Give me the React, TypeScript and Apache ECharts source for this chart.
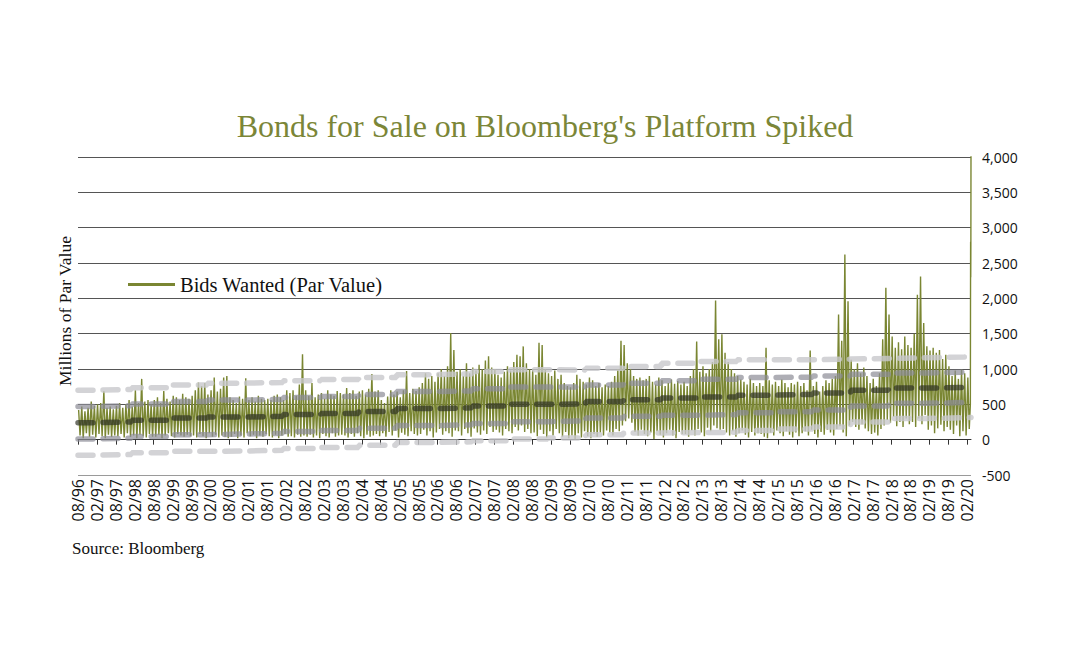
import React, { useEffect, useRef } from "react";
import * as echarts from "echarts";

// Month 0 = Aug 1996. Monthly peak (high) and trough (low) readings of the daily series, millions of par value.
const peakByMonth: number[] = [
  420, 470, 400, 450, 540, 480, 500, 520, 690, 450, 470, 430,
  480, 520, 450, 500, 560, 470, 700, 520, 860, 540, 560, 500,
  560, 600, 520, 690, 580, 540, 620, 600, 560, 650, 600, 580,
  620, 700, 810, 760, 800, 640, 700, 880, 680, 720, 880, 900,
  600, 560, 520, 610, 580, 870, 560, 600, 540, 620, 580, 560,
  580, 560, 620, 640, 600, 560, 700, 660, 700, 620, 780, 1210,
  700, 620, 800, 600, 640, 660, 580, 700, 640, 620, 690, 660,
  640, 730, 660, 700, 620, 680, 700, 640, 720, 930, 680, 700,
  560, 520, 610, 700, 640, 680, 600, 700, 970, 660, 720, 690,
  740, 800, 940, 860, 900, 820, 940, 1000, 900, 1040, 1510, 1270,
  960, 1000, 900, 1080, 940, 1020, 980, 1060, 1000, 1120, 1180, 1020,
  1000, 920, 880, 960, 1040, 980, 1100, 1200, 1180, 1320, 1080, 1000,
  1000, 920, 1370, 1340, 1000, 940, 900, 980, 860, 920, 800, 760,
  740, 800, 920, 860, 820, 780, 880, 840, 760, 800, 740, 780,
  760, 820, 900, 1000, 1400, 1340, 1080, 1000, 900, 860, 880, 840,
  860, 900, 820, 780, 880, 840, 760, 800, 850, 790, 830, 780,
  820, 760, 900, 1000, 1390, 960, 1040, 940, 1000, 1100, 1970, 1420,
  1490, 1230, 1100, 1000, 940, 900, 850, 820, 780, 860, 800, 760,
  800, 760, 1300, 840, 780, 820, 760, 850, 800, 740, 800, 780,
  820, 760, 800, 700, 1260, 760, 820, 680, 760, 840, 800, 860,
  900, 1770, 1400, 2620, 1960, 1130, 1000, 1080, 940, 1020, 900, 800,
  860, 760, 940, 1420, 2150, 1770, 1460, 1300, 1380, 1280, 1460, 1340,
  1300, 1500, 2050, 2310, 1650, 1320, 1260, 1300, 1230, 1270, 1140, 1200,
  1040, 900, 980, 860, 990, 940, 880,
];

const troughByMonth: number[] = [
  60, 20, 90, 40, 70, 30, 80, 50, 20, 70, 40, 60,
  50, 80, 30, 90, 40, 60, 20, 70, 50, 30, 80, 40,
  40, 70, 20, 60, 90, 50, 30, 80, 60, 40, 70, 50,
  60, 30, 80, 50, 20, 90, 40, 70, 30, 60, 40, 20,
  40, 80, 20, 60, 30, 90, 50, 70, 20, 60, 40, 80,
  50, 30, 70, 20, 60, 80, 40, 50, 30, 70, 40, 60,
  40, 70, 30, 60, 20, 80, 50, 30, 90, 40, 60, 70,
  60, 30, 80, 40, 90, 50, 20, 70, 40, 60, 80, 50,
  90, 40, 110, 60, 130, 30, 100, 70, 50, 120, 80, 60,
  80, 140, 60, 120, 30, 100, 150, 70, 120, 90, 40, 130,
  120, 60, 150, 90, 40, 160, 100, 70, 130, 80, 180, 110,
  140, 100, 60, 150, 120, 90, 180, 130, 200, 110, 150, 90,
  100, 50, 140, 80, 30, 120, 60, 150, 90, 40, 110, 20,
  60, 10, 90, 30, 120, 50, 20, 80, 40, 100, 60, 130,
  100, 60, 150, 120, 200, 260, 300, 240, 110, 60, 140, 80,
  50, 100, 10, 120, 70, 30, 90, 140, 60, 20, 110, 80,
  80, 40, 130, 60, 150, 100, 50, 170, 120, 200, 160, 140,
  150, 100, 60, 120, 40, 90, 130, 70, 30, 110, 60, 90,
  80, 40, 20, 100, 60, 130, 90, 50, 120, 70, 30, 100,
  50, 90, 120, 60, 140, 80, 30, 110, 70, 140, 100, 60,
  150, 190, 100, 50, 200, 250, 180, 140, 220, 160, 120, 80,
  100, 60, 150, 200, 280, 240, 320, 190, 250, 180, 300, 220,
  250, 180, 300, 220, 350, 140, 200, 90, 160, 210, 120, 180,
  140, 80, 200, 50, 120, 60, 150,
];

// March 2020 readings (final spike)
const march2020: number[] = [500, 1800, 2800, 2300, 2790, 4130];

// Calendar-year statistics (dashed step lines)
const statYears: number[] = [1996, 1997, 1998, 1999, 2000, 2001, 2002, 2003, 2004, 2005, 2006, 2007, 2008, 2009, 2010, 2011, 2012, 2013, 2014, 2015, 2016, 2017, 2018, 2019, 2020];
const yearMean: number[] = [240, 250, 275, 305, 320, 330, 355, 370, 400, 440, 450, 475, 500, 505, 540, 565, 590, 605, 630, 640, 660, 700, 730, 740, 745];
const yearSd: number[] = [230, 230, 230, 235, 240, 240, 240, 240, 240, 240, 240, 245, 245, 240, 235, 235, 245, 250, 250, 245, 240, 225, 215, 215, 215];

const yTicks: number[] = [-500, 0, 500, 1000, 1500, 2000, 2500, 3000, 3500, 4000];

const X_MAX = 283.2;
const OLIVE = "#7a8632";

function monthLabel(m: number): string {
  const k = Math.round(m) + 7;
  const month = (k % 12) + 1;
  const year = 1996 + Math.floor(k / 12);
  return String(month).padStart(2, "0") + "/" + String(year % 100).padStart(2, "0");
}

function buildBids(): number[][] {
  const out: number[][] = [];
  for (let m = 0; m < peakByMonth.length; m++) {
    out.push([m + 0.2, peakByMonth[m]]);
    out.push([m + 0.65, troughByMonth[m]]);
  }
  const start = peakByMonth.length;
  const step = (X_MAX - start) / (march2020.length - 1);
  march2020.forEach((v, i) => out.push([start + i * step, v]));
  return out;
}

function buildStat(k: number): number[][] {
  const out: number[][] = [];
  statYears.forEach((y, i) => {
    const s = Math.max(0, (y - 1996) * 12 - 7);
    const e = Math.min(X_MAX, (y - 1996) * 12 + 5);
    const v = yearMean[i] + k * yearSd[i];
    out.push([s, v]);
    out.push([e, v]);
  });
  return out;
}

const tickVals: number[] = [];
for (let m = 0; m <= 282; m += 6) tickVals.push(m);

export default function App() {
  const ref = useRef<HTMLDivElement>(null);
  useEffect(() => {
    const chart = echarts.init(ref.current!, null, { renderer: "svg" });
    const dash = (name: string, k: number, color: string, z: number) => ({
      name,
      type: "line",
      data: buildStat(k),
      showSymbol: false,
      symbol: "none",
      z,
      silent: true,
      lineStyle: { color, width: 5.5, type: [15, 10], cap: "round" },
    });
    const option: any = {
      animation: false,
      backgroundColor: "#ffffff",
      grid: { left: 78, right: 1081 - 971, top: 157, bottom: 671 - 475, containLabel: false },
      graphic: [
        {
          type: "text",
          x: 545,
          y: 126,
          style: {
            text: "Bonds for Sale on Bloomberg's Platform Spiked",
            fill: "#7b8637",
            font: "32px 'Liberation Serif'",
            textAlign: "center",
            textVerticalAlign: "middle",
          },
        },
        {
          type: "text",
          x: 65,
          y: 311,
          rotation: Math.PI / 2,
          style: {
            text: "Millions of Par Value",
            fill: "#111",
            font: "17.5px 'Liberation Serif'",
            textAlign: "center",
            textVerticalAlign: "middle",
          },
        },
        {
          type: "text",
          x: 72,
          y: 548,
          style: {
            text: "Source: Bloomberg",
            fill: "#111",
            font: "17px 'Liberation Serif'",
            textAlign: "left",
            textVerticalAlign: "middle",
          },
        },
      ],
      legend: {
        data: ["Bids Wanted (Par Value)"],
        left: 123,
        top: 269,
        icon: "rect",
        itemWidth: 47,
        itemHeight: 3,
        textStyle: { fontFamily: "Liberation Serif", fontSize: 20.5, color: "#111" },
      },
      xAxis: [
        {
          type: "value",
          min: 0,
          max: X_MAX,
          interval: 6,
          position: "bottom",
          axisLine: { show: false, onZero: false },
          axisTick: { show: false },
          splitLine: { show: false },
          axisLabel: {
            rotate: 90,
            margin: 4,
            fontSize: 16,
            fontFamily: "Open Sans",
            color: "#111",
            customValues: tickVals,
            formatter: (v: number) => monthLabel(v),
          },
        },
        {
          type: "value",
          min: 0,
          max: X_MAX,
          interval: 6,
          position: "bottom",
          axisLine: { show: true, onZero: true, lineStyle: { color: "#333", width: 1 } },
          axisTick: { show: true, length: 5, customValues: tickVals, lineStyle: { color: "#333", width: 1 } },
          splitLine: { show: false },
          axisLabel: { show: false },
        },
      ],
      yAxis: {
        type: "value",
        position: "right",
        min: -500,
        max: 4000,
        interval: 500,
        axisLine: { show: false },
        axisTick: { show: false },
        axisLabel: {
          margin: 11,
          fontSize: 14,
          fontFamily: "Open Sans",
          color: "#111",
          formatter: (v: number) => v.toLocaleString("en-US"),
        },
        splitLine: {
          lineStyle: {
            color: yTicks.map((t) => (t === -500 ? "#9a9a9a" : t === 0 ? "#333" : "#555")),
            width: 1,
          },
        },
      },
      series: [
        {
          name: "Bids Wanted (Par Value)",
          type: "line",
          xAxisIndex: 1,
          data: buildBids(),
          showSymbol: false,
          symbol: "none",
          z: 2,
          color: OLIVE,
          lineStyle: { color: OLIVE, width: 1.4 },
        },
        dash("+2 SD", 2, "rgba(200,200,204,0.8)", 3),
        dash("-2 SD", -2, "rgba(200,200,204,0.8)", 3),
        dash("+1 SD", 1, "rgba(140,140,150,0.7)", 4),
        dash("-1 SD", -1, "rgba(140,140,150,0.7)", 4),
        dash("Mean", 0, "rgba(45,48,35,0.68)", 5),
      ],
    };
    chart.setOption(option);
    return () => chart.dispose();
  }, []);
  return (
    <div
      ref={ref}
      style={{ position: "fixed", left: 0, top: 0, width: 1081, height: 671, background: "#fff" }}
    />
  );
}
